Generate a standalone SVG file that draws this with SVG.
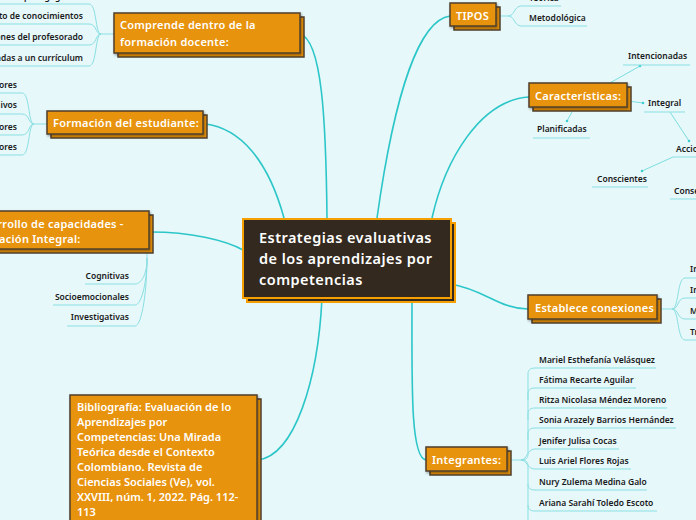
<svg xmlns="http://www.w3.org/2000/svg" width="696" height="520" viewBox="0 0 696 520">
<defs>
<style>
.bg{fill:#e6f8fa}
.main{fill:none;stroke:#2cc6c8;stroke-width:1.6}
.sub{fill:none;stroke:#8adfe2;stroke-width:1}
.thin{fill:none;stroke:#5fd6d8;stroke-width:0.8}
.box{fill:#e8930a;stroke:#4f3f2c;stroke-width:1.5}
.cbox{fill:#33291e;stroke:#f5a000;stroke-width:2}
.nt{font-family:"Noto Sans","Open Sans",sans-serif;font-weight:600;font-size:11px;fill:#ffffff;letter-spacing:0.25px}
.ct{font-family:"Noto Sans","Open Sans",sans-serif;font-weight:600;font-size:14.5px;fill:#ffffff;letter-spacing:0.45px}
.bt{font-family:"Noto Sans","Open Sans",sans-serif;font-weight:600;font-size:11px;fill:#ffffff}
.lt{font-family:"Noto Sans","Open Sans",sans-serif;font-weight:600;font-size:8.5px;fill:#1a1a1a}
.ul{fill:none;stroke:#8adfe2;stroke-width:1}
</style>
<marker id="dot" markerWidth="4" markerHeight="4" refX="2" refY="2" markerUnits="userSpaceOnUse"><circle cx="2" cy="2" r="1.3" fill="#3fcfd1"/></marker>
<filter id="sh" x="-10%" y="-20%" width="130%" height="160%"><feDropShadow dx="1" dy="1.5" stdDeviation="1.2" flood-color="#000" flood-opacity="0.35"/></filter>
</defs>
<rect class="bg" x="0" y="0" width="696" height="520"/>

<g id="connectors">
<path class="main" d="M300,34 C322,40 326,120 327,218"/>
<path class="main" d="M205,124 C240,128 268,160 284,218"/>
<path class="main" d="M151,232 C190,232 225,240 243,250"/>
<path class="main" d="M322,298 C318,380 295,455 258,460"/>
<path class="main" d="M450,16 C420,20 395,90 377,218"/>
<path class="main" d="M529,97 C480,100 445,160 432,218"/>
<path class="main" d="M451,284 C485,290 500,309 528,309"/>
<path class="main" d="M412,298 C412,380 410,458 426,460"/>
<path class="sub" d="M114,34 H101 C95,34 97,4 89,4 H-5"/>
<path class="sub" d="M101,34 C95,34 97,24 89,24 H-5"/>
<path class="sub" d="M101,34 C95,34 97,45 89,45 H-5"/>
<path class="sub" d="M101,34 C95,34 97,66 89,66 H-5"/>
<path class="sub" d="M47,124 H34 C28,124 30,93 22,93 H-5"/>
<path class="sub" d="M34,124 C28,124 30,114 22,114 H-5"/>
<path class="sub" d="M34,124 C28,124 30,135 22,135 H-5"/>
<path class="sub" d="M34,124 C28,124 30,155 22,155 H-5"/>
<path class="sub" d="M147,250 V260 C147,272 142,284 135,284 H85"/>
<path class="sub" d="M147,258 C147,280 142,305 135,305 H53"/>
<path class="sub" d="M147,258 C147,290 142,326 135,326 H67"/>
<path class="sub" d="M497,16 H508 C515,16 514,6 521,6 H561"/>
<path class="sub" d="M508,16 C515,16 514,26 521,26 H587"/>
<path class="thin" d="M608,84 L640,66" marker-end="url(#dot)"/>
<path class="thin" d="M628,101 L643,103" marker-end="url(#dot)"/>
<path class="thin" d="M572,112 L567,121" marker-end="url(#dot)"/>
<path class="thin" d="M670,112 L689,141" marker-end="url(#dot)"/>
<path class="thin" d="M673,157 L642,171" marker-end="url(#dot)"/>
<path class="ul" d="M623,65 H690"/>
<path class="ul" d="M644,112 H685"/>
<path class="ul" d="M533,138 H590"/>
<path class="ul" d="M673,157 H700"/>
<path class="ul" d="M592,187 H648"/>
<path class="ul" d="M670,199 H700"/>
<path class="sub" d="M657,309 H672 C679,309 677,278 685,278 H700"/>
<path class="sub" d="M672,309 C679,309 677,298 685,298 H700"/>
<path class="sub" d="M672,309 C679,309 677,319 685,319 H700"/>
<path class="sub" d="M672,309 C679,309 677,340 685,340 H700"/>
<path class="sub" d="M507,460 H521 C526,460 528,458 528,454 V374 C528,370 530,368 535,368 H656"/>
<path class="sub" d="M528,400 V394 C528,390 530,388 535,388 H636"/>
<path class="sub" d="M528,420 V414 C528,410 530,408 535,408 H667"/>
<path class="sub" d="M528,440 V434 C528,430 530,428 535,428 H676"/>
<path class="sub" d="M521,460 C527,460 527,449 535,449 H619"/>
<path class="sub" d="M521,460 C527,460 527,469 535,469 H631"/>
<path class="sub" d="M521,460 C526,460 528,462 528,466 V484 C528,488 530,490 535,490 H647"/>
<path class="sub" d="M528,484 V505 C528,509 530,511 535,511 H657"/>
<path class="sub" d="M528,505 V525"/>
</g>

<g id="central">
<rect class="cbox" x="247" y="223" width="208" height="79"/>
<rect class="cbox" x="243" y="219" width="208" height="79"/>
<text class="ct" x="259" y="243">Estrategias evaluativas</text>
<text class="ct" x="259" y="264">de los aprendizajes por</text>
<text class="ct" x="259" y="285">competencias</text>
</g>

<g id="comprende">
<rect class="box" x="118" y="17" width="186" height="40"/>
<rect class="box" x="114" y="13" width="186" height="40" filter="url(#sh)"/>
<text class="nt" x="120" y="29">Comprende dentro de la</text>
<text class="nt" x="120" y="46">formación docente:</text>
</g>
<g id="comprende-items">
<text class="lt" x="72" y="0" text-anchor="end">pedagógica</text>
<text class="lt" x="83" y="19" text-anchor="end">nto de conocimientos</text>
<text class="lt" x="83" y="40" text-anchor="end">ones del profesorado</text>
<text class="lt" x="83" y="61" text-anchor="end">adas a un currículum</text>
</g>

<g id="formacion">
<rect class="box" x="51" y="115" width="156" height="23"/>
<rect class="box" x="47" y="111" width="156" height="23" filter="url(#sh)"/>
<text class="nt" x="53" y="127">Formación del estudiante:</text>
</g>
<g id="formacion-items">
<text class="lt" x="17" y="88" text-anchor="end">ores</text>
<text class="lt" x="17" y="108" text-anchor="end">ivos</text>
<text class="lt" x="17" y="130" text-anchor="end">ores</text>
<text class="lt" x="17" y="150" text-anchor="end">ores</text>
</g>

<g id="desarrollo">
<rect class="box" x="-6" y="215" width="159" height="38"/>
<rect class="box" x="-10" y="211" width="159" height="38" filter="url(#sh)"/>
<text class="nt" x="-30" y="228">Desarrollo de capacidades -</text>
<text class="nt" x="-30" y="243">Formación Integral:</text>
</g>
<g id="desarrollo-items">
<text class="lt" x="129" y="279" text-anchor="end">Cognitivas</text>
<text class="lt" x="129" y="300" text-anchor="end">Socioemocionales</text>
<text class="lt" x="129" y="320" text-anchor="end">Investigativas</text>
</g>

<g id="bibliografia">
<rect class="box" x="74" y="399" width="187" height="130"/>
<rect class="box" x="70" y="395" width="187" height="130" filter="url(#sh)"/>
<text class="bt" x="77" y="411">Bibliografía: Evaluación de lo</text>
<text class="bt" x="77" y="426">Aprendizajes por</text>
<text class="bt" x="77" y="441">Competencias: Una Mirada</text>
<text class="bt" x="77" y="456">Teórica desde el Contexto</text>
<text class="bt" x="77" y="471">Colombiano. Revista de</text>
<text class="bt" x="77" y="486">Ciencias Sociales (Ve), vol.</text>
<text class="bt" x="77" y="501">XXVIII, núm. 1, 2022. Pág. 112-</text>
<text class="bt" x="77" y="516">113</text>
</g>

<g id="tipos">
<rect class="box" x="454" y="7" width="46" height="23"/>
<rect class="box" x="450" y="3" width="46" height="23" filter="url(#sh)"/>
<text class="nt" x="456" y="20">TIPOS</text>
</g>
<g id="tipos-items">
<text class="lt" x="529" y="1">Teórica</text>
<text class="lt" x="529" y="21">Metodológica</text>
</g>

<g id="caracteristicas">
<rect class="box" x="533" y="87" width="98" height="24"/>
<rect class="box" x="529" y="83" width="98" height="24" filter="url(#sh)"/>
<text class="nt" x="535" y="100">Características:</text>
</g>
<g id="caracteristicas-items">
<text class="lt" x="628" y="59">Intencionadas</text>
<text class="lt" x="648" y="106">Integral</text>
<text class="lt" x="537" y="132">Planificadas</text>
<text class="lt" x="676" y="152">Acciones</text>
<text class="lt" x="597" y="182">Conscientes</text>
<text class="lt" x="674" y="194">Consecuentes</text>
</g>

<g id="establece">
<rect class="box" x="532" y="299" width="129" height="24"/>
<rect class="box" x="528" y="295" width="129" height="24" filter="url(#sh)"/>
<text class="nt" x="535" y="312">Establece conexiones</text>
</g>
<g id="establece-items">
<text class="lt" x="690" y="272">Integración</text>
<text class="lt" x="690" y="293">Interacción</text>
<text class="lt" x="690" y="314">Motivación</text>
<text class="lt" x="690" y="335">Transferencia</text>
</g>

<g id="integrantes">
<rect class="box" x="430" y="451" width="81" height="24"/>
<rect class="box" x="426" y="447" width="81" height="24" filter="url(#sh)"/>
<text class="nt" x="432" y="464">Integrantes:</text>
</g>
<g id="integrantes-items">
<text class="lt" x="539" y="363">Mariel Esthefanía Velásquez</text>
<text class="lt" x="539" y="383">Fátima Recarte Aguilar</text>
<text class="lt" x="539" y="403">Ritza Nicolasa Méndez Moreno</text>
<text class="lt" x="539" y="423">Sonia Arazely Barrios Hernández</text>
<text class="lt" x="539" y="444">Jenifer Julisa Cocas</text>
<text class="lt" x="539" y="464">Luis Ariel Flores Rojas</text>
<text class="lt" x="539" y="485">Nury Zulema Medina Galo</text>
<text class="lt" x="539" y="506">Ariana Sarahí Toledo Escoto</text>
</g>
</svg>
